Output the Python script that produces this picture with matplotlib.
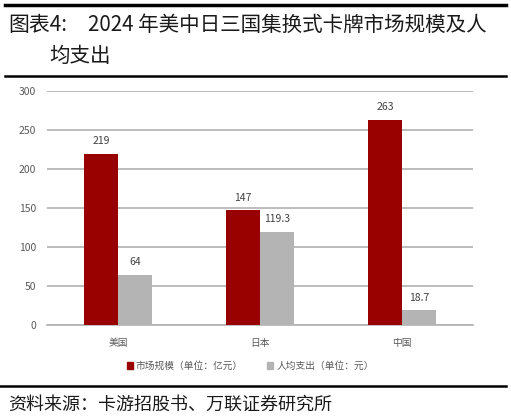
import matplotlib
matplotlib.use("Agg")
import matplotlib.pyplot as plt
import numpy as np
from matplotlib.lines import Line2D
from matplotlib.patches import Patch

plt.rcParams['font.family'] = ['Noto Sans CJK SC', 'DejaVu Sans']

categories = ['美国', '日本', '中国']
market = [219, 147, 263]
per_capita = [64, 119.3, 18.7]
market_labels = ['219', '147', '263']
per_labels = ['64', '119.3', '18.7']
series_names = ['市场规模（单位：亿元）', '人均支出（单位：元）']
yticks = [0, 50, 100, 150, 200, 250, 300]

red = '#990000'
gray = '#b4b4b4'

fig = plt.figure(figsize=(5.11, 4.19), dpi=100)
ax = fig.add_axes([47/511, 1-325/419, 426/511, 234/419])

x = np.arange(len(categories))
w = 0.24
ax.bar(x - w/2, market, w, color=red, zorder=3)
ax.bar(x + w/2, per_capita, w, color=gray, zorder=3)

for xi, v, lab in zip(x, market, market_labels):
    ax.text(xi - w/2, v + 10, lab, ha='center', va='bottom', fontsize=7.5, color='#404040')
for xi, v, lab in zip(x, per_capita, per_labels):
    ax.text(xi + w/2, v + 10, lab, ha='center', va='bottom', fontsize=7.5, color='#404040')

ax.set_xlim(-0.5, 2.5)
ax.set_ylim(0, 300)
ax.set_yticks(yticks)
ax.set_yticklabels([str(t) for t in yticks], fontsize=7.5, color='#595959')
ax.yaxis.grid(True, color='#b0b0b0', linewidth=1.2, zorder=0)
ax.set_xticks(x)
ax.set_xticklabels(categories, fontsize=7, color='#595959')
ax.tick_params(axis='both', length=0, pad=8)
ax.tick_params(axis='x', pad=9)
for s in ['top', 'right', 'left']:
    ax.spines[s].set_visible(False)
ax.spines['bottom'].set_color('#b0b0b0')
ax.spines['bottom'].set_linewidth(1.2)

handles = [Patch(color=red), Patch(color=gray)]
leg = fig.legend(handles, series_names, loc='center', bbox_to_anchor=(0.49, 1-366/419),
                 ncol=2, frameon=False, fontsize=7, handlelength=0.6, handleheight=0.6,
                 handletextpad=0.3, columnspacing=2.5)
for t in leg.get_texts():
    t.set_color('#595959')

# frame lines
fig.add_artist(Line2D([5/511, 506/511], [1-5/419, 1-5/419], color='black', linewidth=2.5))
fig.add_artist(Line2D([5/511, 506/511], [1-76/419, 1-76/419], color='black', linewidth=1.8))
fig.add_artist(Line2D([0/511, 506/511], [1-386/419, 1-386/419], color='black', linewidth=1.8))

fig.text(8/511, 1-25/419, '图表4:', fontsize=15, va='center', ha='left', color='#1a1a1a')
fig.text(88/511, 1-25/419, '2024 年美中日三国集换式卡牌市场规模及人', fontsize=14.8,
         va='center', ha='left', color='#1a1a1a')
fig.text(49/511, 1-56/419, '均支出', fontsize=14.8, va='center', ha='left', color='#1a1a1a')
fig.text(8/511, 1-405/419, '资料来源：卡游招股书、万联证券研究所', fontsize=13,
         va='center', ha='left', color='#1a1a1a')

fig.savefig('out.png', dpi=100)
